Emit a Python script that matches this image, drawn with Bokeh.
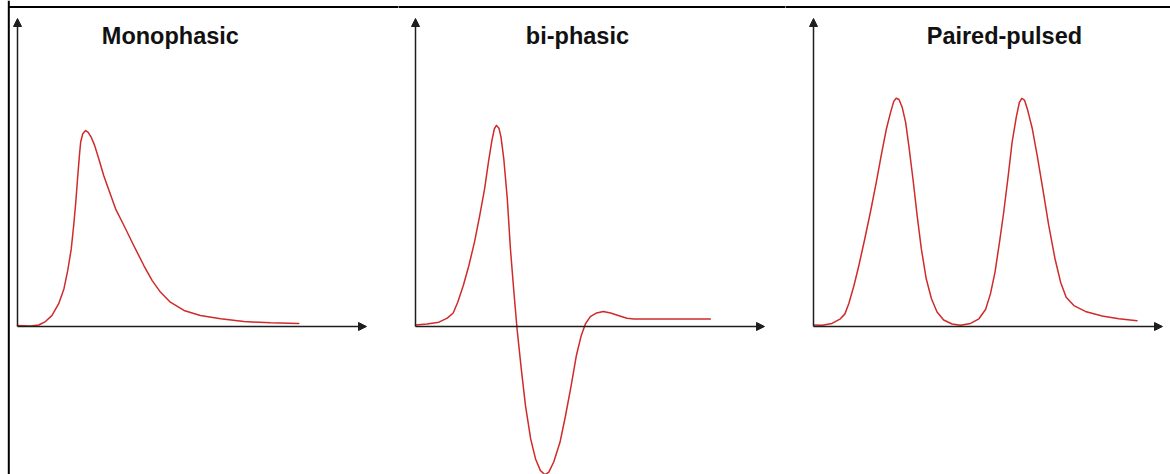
from bokeh.plotting import figure
from bokeh.layouts import row
from bokeh.models import Range1d, Arrow, NormalHead, Label, Span
from bokeh.embed import file_html
from bokeh.resources import INLINE

# ---- data (time in arbitrary units, amplitude in arbitrary units) ----
titles = ["Monophasic", "bi-phasic", "Paired-pulsed"]

mono_t = [0.00, 0.37, 0.61, 0.80, 0.99, 1.18, 1.33, 1.44, 1.54, 1.61, 1.67, 1.72, 1.77,
          1.81, 1.87, 1.95, 2.02, 2.11, 2.21, 2.33, 2.47, 2.62, 2.81, 3.05, 3.33, 3.62,
          3.86, 4.10, 4.38, 4.77, 5.24, 5.82, 6.49, 7.25, 8.06]
mono_v = [0.03, 0.02, 0.05, 0.16, 0.36, 0.74, 1.22, 1.82, 2.52, 3.28, 4.04, 4.79, 5.50,
          5.99, 6.26, 6.36, 6.31, 6.15, 5.88, 5.44, 4.90, 4.42, 3.82, 3.28, 2.63, 1.98,
          1.49, 1.11, 0.79, 0.52, 0.36, 0.25, 0.16, 0.12, 0.10]

bi_t = [0.00, 0.33, 0.67, 0.91, 1.08, 1.21, 1.37, 1.53, 1.69, 1.84, 1.98, 2.09, 2.19,
        2.26, 2.32, 2.39, 2.45, 2.53, 2.63, 2.72, 2.82, 2.91, 3.03, 3.15, 3.30, 3.44,
        3.58, 3.71, 3.82, 3.96, 4.14, 4.30, 4.46, 4.61, 4.75, 4.87, 5.01, 5.19, 5.38,
        5.59, 5.83, 6.06, 6.26, 8.45]
bi_v = [0.05, 0.08, 0.14, 0.27, 0.44, 0.79, 1.33, 1.98, 2.74, 3.60, 4.47, 5.34, 6.04,
        6.42, 6.53, 6.44, 6.15, 5.44, 4.15, 2.52, 1.11, -0.08, -1.37, -2.56, -3.65, -4.30,
        -4.68, -4.81, -4.73, -4.40, -3.76, -2.89, -1.92, -0.94, -0.29, 0.09, 0.32, 0.44, 0.49,
        0.44, 0.35, 0.27, 0.24, 0.24]

pp_t = [0.01, 0.25, 0.53, 0.77, 0.90, 1.01, 1.16, 1.30, 1.47, 1.63, 1.80, 1.95, 2.09,
        2.21, 2.30, 2.37, 2.45, 2.54, 2.64, 2.73, 2.85, 2.97, 3.09, 3.23, 3.38, 3.54,
        3.73, 3.97, 4.21, 4.50, 4.74, 4.93, 5.07, 5.20, 5.33, 5.45, 5.58, 5.69, 5.81,
        5.90, 5.97, 6.05, 6.14, 6.27, 6.41, 6.57, 6.74, 6.92, 7.08, 7.24, 7.46, 7.79,
        8.27, 8.75, 9.27]
pp_v = [0.05, 0.04, 0.10, 0.25, 0.41, 0.74, 1.33, 1.98, 2.85, 3.71, 4.69, 5.61, 6.42,
        6.96, 7.31, 7.41, 7.37, 7.12, 6.63, 5.88, 4.79, 3.60, 2.52, 1.55, 0.90, 0.47,
        0.21, 0.08, 0.04, 0.10, 0.25, 0.55, 1.06, 1.76, 2.74, 3.71, 4.90, 5.98, 6.80,
        7.28, 7.41, 7.34, 7.01, 6.42, 5.55, 4.47, 3.28, 2.20, 1.44, 0.95, 0.68, 0.49,
        0.34, 0.25, 0.19]

axis_len = [10, 10]                       # x-axis arrow end, y-axis arrow end
title_x = [4.38, 4.64, 5.47]
title_y = 9.44

# ---- layout geometry (page has no margin with bokeh's template) ----
XS = 34.9      # px per x unit
YS = 30.8      # px per y unit
H = 474
ORIGIN_Y_FROM_TOP = 326
widths = [398, 387, 385]
origin_x_px = [17, 17, 28]
BORDER_X_PX = 8.3      # page x of left frame line
BORDER_Y_PX = 6.6      # page y of top frame line

RED = "#d02a2a"
AX = "#1e1e1e"

series = [(mono_t, mono_v), (bi_t, bi_v), (pp_t, pp_v)]
figs = []
for i in range(3):
    w = widths[i]
    ox = origin_x_px[i]
    xr = Range1d(-ox / XS, (w - ox) / XS)
    yr = Range1d(-(H - ORIGIN_Y_FROM_TOP) / YS, ORIGIN_Y_FROM_TOP / YS)
    p = figure(width=w, height=H, x_range=xr, y_range=yr,
               output_backend="svg", toolbar_location=None,
               x_axis_location=None, y_axis_location=None,
               min_border=0, outline_line_color=None,
               background_fill_color="white", border_fill_color="white")
    p.grid.visible = False

    # frame border (left of first panel, top of all)
    top_y = (ORIGIN_Y_FROM_TOP - BORDER_Y_PX) / YS
    x0 = (BORDER_X_PX - ox) / XS if i == 0 else xr.start - 1
    p.segment(x0=[x0], y0=[top_y], x1=[xr.end + 1], y1=[top_y],
              line_color="black", line_width=2)
    if i == 0:
        p.add_layout(Span(location=x0, dimension="height",
                          line_color="black", line_width=2))

    # axes as arrows
    p.add_layout(Arrow(x_start=0, y_start=0, x_end=axis_len[0], y_end=0,
                       line_color=AX, line_width=1.5,
                       end=NormalHead(size=8, fill_color=AX, line_color=AX)))
    p.add_layout(Arrow(x_start=0, y_start=0, x_end=0, y_end=axis_len[1],
                       line_color=AX, line_width=1.5,
                       end=NormalHead(size=8, fill_color=AX, line_color=AX)))

    t, v = series[i]
    p.line(t, v, line_color=RED, line_width=1.5, line_join="round", line_cap="round")

    p.add_layout(Label(x=title_x[i], y=title_y, text=titles[i],
                       text_align="center", text_baseline="alphabetic",
                       text_font="Liberation Sans", text_font_style="bold",
                       text_font_size="23.5px", text_color="#111111"))
    figs.append(p)

layout = row(*figs, spacing=0)
open("out.html", "w").write(file_html(layout, INLINE))
